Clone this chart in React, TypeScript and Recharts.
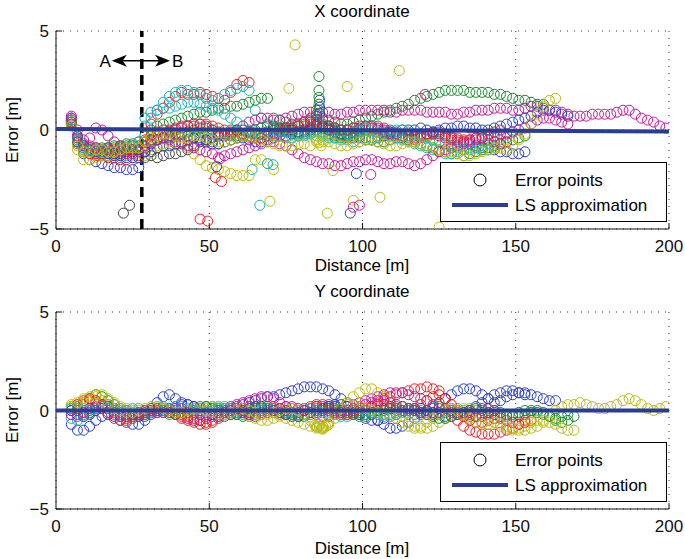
import { ScatterChart, Scatter, XAxis, YAxis, CartesianGrid, ReferenceLine } from 'recharts'

// ─── Colour tokens — MATLAB line cycle ────────────────────────────────────────

const BLUE    = '#2a3fc8'
const GREEN   = '#17882a'
const RED     = '#ea2020'
const CYAN    = '#14b2bc'
const MAGENTA = '#c21a98'
const YELLOW  = '#bcbc14'
const GRAY    = '#454545'
const LS_BLUE = '#2a3d94'
const INK     = '#111'
const FONT    = '"Liberation Sans", Arial, Helvetica, sans-serif'

// ─── Data ─────────────────────────────────────────────────────────────────────

const _ = null
type Val = number | null

// distance samples [m] shared by every trajectory
const DIST = [
  5, 7, 9, 11, 13, 15, 17, 19, 21, 23,
  25, 27, 29, 31, 33, 35, 37, 39, 41, 43,
  45, 47, 49, 51, 53, 55, 57, 59, 61, 63,
  65, 67, 69, 71, 73, 75, 77, 79, 81, 83,
  85, 87, 89, 91, 93, 95, 97, 99, 101, 103,
  105, 107, 109, 111, 113, 115, 117, 119, 121, 123,
  125, 127, 129, 131, 133, 135, 137, 139, 141, 143,
  145, 147, 149, 151, 153, 155, 157, 159, 161, 163,
  165, 167, 169, 171, 173, 175, 177, 179, 181, 183,
  185, 187, 189, 191, 193, 195, 197, 199,
]

const X_TICKS = [0, 50, 100, 150, 200]
const Y_TICKS = [-5, 0, 5]

// X coordinate error [m], one array per run
const TOP_B1: Val[] = [
  0.5, -0.6, -1.2, -1.5, -1.6, -1.7, -1.8, -1.9, -1.9, -2.0,
  -2.0, -1.9, -1.4, -1.1, -0.9, -0.8, -0.8, -0.7, -0.6, -0.5,
  -0.4, -0.4, -0.5, -0.6, -0.7, -0.6, -0.5, -0.4, -0.3, -0.3,
  -0.4, -0.4, -0.3, -0.2, -0.1, 0.0, 0.1, 0.2, 0.3, 0.4,
  0.7, 0.5, 0.2, 0.0, -0.2, -0.3, -0.4, -0.4, -0.5, -0.5,
  -0.4, -0.3, -0.2, -0.1, 0.0, 0.0, 0.0, 0.1, 0.0, -0.1,
  -0.2, -0.3, -0.4, -0.5, -0.6, -0.7, -0.8, -0.9, -1.0, -1.0,
  -1.1, -1.1, -1.2, -1.2, -1.1,
]
const TOP_G1: Val[] = [
  0.4, -0.4, -0.8, -0.9, -0.9, -1.0, -0.9, -0.8, -0.8, -0.7,
  -0.7, -0.6, -0.3, 0.0, 0.2, 0.3, 0.4, 0.5, 0.6, 0.7,
  0.8, 0.9, 0.9, 1.0, 1.1, 1.1, 1.2, 1.2, 1.3, 1.4,
  1.5, 1.6, 1.6, 0.6, 0.5, 0.4, 0.3, 0.3, 0.4, 0.5,
  0.8, 0.6, 0.5, 0.4, 0.3, 0.3, 0.4, 0.5, 0.6, 0.7,
  0.8, 0.9, 1.0, 1.1, 1.2, 1.3, 1.5, 1.6, 1.7, 1.8,
  1.9, 2.0, 2.0, 2.0, 2.0, 1.9, 1.9, 1.9, 1.9, 1.8,
  1.8, 1.7, 1.6, 1.5, 1.5, 1.4, 1.3, 1.3,
]
const TOP_R1: Val[] = [
  0.5, -0.5, -1.0, -1.2, -1.3, -1.3, -1.4, -1.4, -1.5, -1.5,
  -1.4, -1.3, -0.5, 0.3, 0.8, 1.1, 1.4, 1.7, 1.9, 1.8,
  1.8, 1.9, 1.8, 1.7, 1.6, 1.5, 1.9, 2.3, 2.5, 2.4,
  _, _, _, 0.1, 0.0, -0.1, 0.0, 0.2, 0.4, 0.6,
  0.5, 0.2, 0.0, -0.2, -0.3, -0.3, -0.2, -0.1, 0.0, 0.1,
  0.2, 0.1, 0.0, -0.2, -0.4, -0.5, -0.5, -0.4, -0.3, -0.2,
  -0.1, -0.2, -0.3, -0.4, -0.5, -0.5, -0.4, -0.3, -0.2, -0.1,
  0.0,
]
const TOP_C1: Val[] = [
  0.4, -0.6, -1.0, -1.1, -1.2, -1.2, -1.2, -1.2, -1.3, -1.3,
  -1.2, -1.0, 0.2, 0.6, 1.0, 1.4, 1.7, 1.9, 2.0, 2.0,
  1.9, 1.8, 1.6, 1.5, 1.6, 1.8, 2.0, 2.1, 2.2, 2.0,
  1.0, 0.6, 0.3, 0.1, 0.0, -0.1, -0.2, -0.3, -0.3, -0.2,
  -0.1, -0.2, -0.3, -0.4, -0.5, -0.5, -0.6, -0.6, -0.5, -0.4,
  -0.3, -0.2, -0.1, 0.0, 0.0, -0.1, -0.2, -0.3, -0.4, -0.5,
  -0.6, -0.7, -0.8, -0.9, -1.0, -1.0, -0.9, -0.8, -0.7, -0.6,
  -0.5, -0.4,
]
const TOP_M1: Val[] = [
  0.7, 0.0, -0.5, -0.4, 0.1, 0.0, -0.3, -0.6, -0.8, -0.9,
  -1.0, -1.0, -0.8, -0.5, -0.3, -0.2, -0.1, 0.0, 0.1, 0.2,
  0.3, 0.3, 0.2, 0.0, -0.2, -0.3, -0.2, 0.0, 0.2, 0.4,
  0.5, 0.6, 0.6, 0.5, 0.5, 0.6, 0.7, 0.8, 0.9, 0.9,
  1.0, 0.9, 0.9, 0.8, 0.8, 0.9, 0.9, 1.0, 1.0, 1.0,
  1.0, 1.0, 0.9, 0.9, 1.0, 1.0, 1.0, 1.0, 0.9, 0.9,
  0.9, 0.9, 0.8, 0.8, 0.9, 0.9, 1.0, 1.0, 1.0, 1.1,
  1.1, 1.1, 1.0, 1.0, 1.1, 1.2, 1.2, 1.1, 1.0, 1.0,
  0.9, 0.8, 0.7, 0.7, 0.7, 0.8, 0.8, 0.8, 0.8, 0.9,
  1.0, 1.0, 0.8, 0.6, 0.5, 0.4, 0.2, 0.1,
]
const TOP_Y1: Val[] = [
  0.3, -1.0, -1.5, -1.5, -1.4, -1.3, -1.3, -1.3, -1.2, -1.2,
  -1.3, -1.4, -1.3, -1.0, -0.8, -0.7, -0.6, -0.6, -0.7, -0.9,
  -1.2, -1.5, -1.8, -1.9, -2.0, -2.1, -2.2, -2.3, -2.3, -2.3,
  -1.5, -1.5, -1.7, -2.0,
]
const TOP_K1: Val[] = [
  0.3, -0.6, -0.9, -1.0, -1.0, -1.1, -1.1, -1.2, -1.2, -1.1,
  -1.1, -1.0, -1.1, -1.3, -1.4, -1.3, -1.2, -1.2, -1.1, -1.0,
  -0.8, -0.6, -0.5, -0.4, -0.3, -0.2, -0.1, 0.0, 0.0, -0.1,
  -0.2, -0.2, -0.1, 0.0, 0.1, 0.1, 0.0, -0.1, -0.1, 0.0,
  0.2, 0.1, 0.0, -0.1, -0.2, -0.2, -0.1, 0.0,
]
const TOP_B2: Val[] = [
  0.6, -0.3, -0.8, -1.0, -1.1, -1.1, -1.2, -1.3, -1.3, -1.4,
  -1.4, -1.4, -1.1, -0.7, -0.5, -0.4, -0.3, -0.2, -0.2, -0.3,
  -0.4, -0.5, -0.6, -0.7, -0.7, -0.6, -0.5, -0.4, -0.4, -0.5,
  -0.6, -0.6, -0.5, -0.4, -0.3, -0.3, -0.2, -0.1, 0.0, 0.1,
  0.3, 0.2, 0.1, 0.1, 0.0, 0.0, 0.1, 0.1, 0.2, 0.2,
  0.1, 0.0, -0.1, -0.2, -0.3, -0.3, -0.3, -0.2, -0.2, -0.1,
  0.0, 0.1, 0.1, 0.2, 0.2, 0.1, 0.1, 0.0, 0.0, 0.1,
  0.2, 0.3, 0.4, 0.5, 0.6, 0.7, 0.9, 1.0, 1.0, 0.9,
  0.8, 0.7,
]
const TOP_G2: Val[] = [
  0.5, -0.4, -0.9, -1.0, -1.0, -0.9, -0.9, -0.9, -0.9, -0.8,
  -0.8, -0.8, -0.6, -0.5, -0.5, -0.4, -0.4, -0.3, -0.2, -0.1,
  0.0, 0.1, 0.1, 0.0, -0.1, -0.2, -0.3, -0.3, -0.2, -0.1,
  0.0, 0.1, 0.2, 0.2, 0.1, 0.0, -0.1, -0.2, -0.2, -0.1,
  0.0, -0.1, -0.2, -0.3, -0.4, -0.4, -0.3, -0.3, -0.4, -0.5,
  -0.6, -0.6, -0.5, -0.4, -0.4, -0.5, -0.6, -0.7, -0.8, -0.9,
  -1.0, -1.1, -1.2, -1.2, -1.3, -1.2, -1.1, -1.0, -0.9, -0.8,
  -0.7, -0.6, -0.5, -0.4, -0.3,
]
const TOP_R2: Val[] = [
  0.4, -0.7, -1.1, -1.2, -1.2, -1.2, -1.1, -1.0, -1.0, -1.0,
  -1.0, -0.9, -0.6, -0.3, -0.1, 0.0, 0.0, 0.1, 0.2, 0.2,
  0.2, 0.3, 0.3, 0.2, 0.1, 0.0, 0.0, -0.1, -0.2, -0.3,
  -0.4, -0.4, -0.3, -0.2, -0.1, 0.0, 0.1, 0.2, 0.2, 0.3,
  0.4, 0.3, 0.2, 0.1, 0.0, 0.0, 0.1, 0.2, 0.2, 0.1,
  0.0, -0.1, -0.2, -0.3, -0.3, -0.4, -0.4, -0.3, -0.2, -0.2,
  -0.3, -0.4, -0.5, -0.6, -0.6, -0.5, -0.4, -0.4, -0.5, -0.6,
  -0.7, -0.6,
]
const TOP_C2: Val[] = [
  0.5, -0.5, -0.9, -1.0, -1.0, -1.1, -1.1, -1.1, -1.0, -0.9,
  -0.8, -0.6, 0.6, 0.9, 1.0, 1.1, 1.1, 1.2, 1.3, 1.4,
  1.4, 1.3, 1.2, 1.1, 1.0, 0.8, 0.6, 0.4, 0.2, 0.0,
  -0.1, -0.2, -0.2, -0.3, -0.3, -0.4, -0.4, -0.3, -0.2, -0.2,
  -0.3, -0.3, -0.4, -0.4, -0.3, -0.2, -0.1, 0.0, 0.1, 0.0,
  -0.1, -0.2, -0.3, -0.4, -0.5, -0.6, -0.7, -0.8, -0.9, -1.0,
  -1.1, -1.2, -1.2, -1.1, -1.0, -0.9, -0.9, -1.0, -1.0, -0.9,
]
const TOP_M2: Val[] = [
  0.6, -0.3, -0.7, -0.8, -0.9, -1.0, -1.0, -1.1, -1.1, -1.2,
  -1.2, -1.1, -0.8, -0.6, -0.5, -0.4, -0.5, -0.6, -0.7, -0.8,
  -0.9, -1.0, -1.1, -1.2, -1.4, -1.3, -1.2, -1.1, -1.0, -0.9,
  -0.8, -0.7, -0.6, -0.6, -0.7, -0.8, -1.0, -1.2, -1.4, -1.5,
  -1.6, -1.7, -1.7, -1.8, -1.8, -1.7, -1.6, -1.6, -1.5, -1.5,
  -1.6, -1.7, -1.7, -1.6, -1.6, -1.7, -1.8, -1.7, -1.5, -1.3,
  -1.1, -1.0, -0.9, -0.8, -0.7, -0.6, -0.5, -0.4, -0.3, -0.3,
  -0.2, -0.2, -0.1, 0.0, 0.1, 0.3, 0.5, 0.6, 0.6, 0.5,
  0.4, 0.3,
]
const TOP_Y2: Val[] = [
  0.2, -0.8, -1.1, -1.1, -1.0, -1.0, -1.1, -1.1, -1.0, -0.9,
  -0.9, -0.9, -0.6, -0.4, -0.3, -0.2, -0.2, -0.3, -0.4, -0.4,
  -0.3, -0.3, -0.4, -0.5, -0.6, -0.6, -0.5, -0.4, -0.3, -0.3,
  -0.4, -0.5, -0.6, -0.7, -0.8, -0.8, -0.8, -0.7, -0.7, -0.8,
  -0.6, -0.5, -0.6, -0.7, -0.8, -0.8, -0.7, -0.6, -0.5, -0.5,
  -0.6, -0.7, -0.8, -0.8, -0.7, -0.6, -0.6, -0.7, -0.8, -0.9,
  -1.0, -1.1, -1.1, -1.2, -1.3, -1.3, -1.2, -1.1, -1.0, -0.9,
  -0.9, -1.0, -0.8, -0.5, -0.2, 0.3, 0.8, 1.2, 1.5, 1.6,
]

// stray fixes [distance, error]
const TOP_OUT_K = [[22, -4.2], [24, -3.8]]
const TOP_OUT_R = [[47, -4.5], [49.5, -4.6], [52, -2.4], [54, -2.6]]
const TOP_OUT_C = [[66.5, -3.8], [64, -2.0], [69, -1.7], [70.8, -1.75]]
const TOP_OUT_B = [[96, -4.2], [98, -2.2], [52.4, -1.85], [86, 1.5], [86, 1.15], [86, 0.85]]
const TOP_OUT_M = [[97, -3.9], [99, -3.8], [102.7, -2.25], [120.4, 1.8], [53.5, -1.45]]
const TOP_OUT_G = [[85.8, 2.7], [85.8, 2.0], [85.8, 1.65], [85.8, 1.3], [85.8, 1.0]]
const TOP_OUT_Y = [
  [76, 2.1], [78, 4.3], [95, 2.2], [112, 3.0], [69.8, -3.6], [88.5, -4.2],
  [97, -3.55], [105.7, -3.4], [125, -4.9], [90.4, -2.05],
  [85, -0.5], [85.8, -0.65], [86.5, -0.8], [87.2, -0.6],
]

// Y coordinate error [m]
const BOT_B1: Val[] = [
  -0.7, -1.0, -1.0, -0.8, -0.5, -0.3, -0.2, -0.3, -0.5, -0.6,
  -0.7, -0.7, -0.5, -0.1, 0.4, 0.7, 0.8, 0.6, 0.4, 0.3,
  0.2, 0.1, 0.0, -0.1, -0.1, 0.0, 0.1, 0.2, 0.3, 0.4,
  0.5, 0.6, 0.7, 0.7, 0.8, 0.9, 1.0, 1.1, 1.2, 1.2,
  1.2, 1.1, 1.0, 0.8, 0.6, 0.4, 0.3, 0.2, 0.0, -0.2,
  -0.5, -0.7, -0.9, -0.9, -0.8, -0.6, -0.4, -0.2, 0.0, 0.2,
  0.4, 0.6, 0.8, 1.0, 1.1, 1.1, 1.0, 0.8, 0.6, 0.4,
  0.5, 0.7, 0.8, 0.9, 0.9, 0.8, 0.7, 0.6, 0.5, 0.5,
]
const BOT_G1: Val[] = [
  0.0, 0.1, 0.3, 0.6, 0.8, 0.7, 0.5, 0.3, 0.1, 0.0,
  -0.1, -0.2, -0.2, -0.1, 0.0, 0.1, 0.1, 0.0, -0.1, -0.1,
  0.0, 0.1, 0.2, 0.2, 0.1, 0.0, -0.1, -0.2, -0.3, -0.3,
  -0.2, -0.1, 0.0, 0.1, 0.1, 0.0, -0.1, -0.2, -0.2, -0.1,
  0.0, 0.1, 0.2, 0.2, 0.1, 0.0, -0.1, -0.2, -0.2, -0.1,
  0.0, 0.1, 0.1, 0.0, -0.1, -0.2, -0.2, -0.1, 0.0, 0.1,
  0.2, 0.1, 0.0, -0.1, -0.2, -0.3, -0.3, -0.2, -0.1, 0.0,
  -0.1, -0.2, -0.3, -0.3, -0.2, -0.1, 0.0, -0.1, -0.3, -0.5,
  -0.6, -0.5,
]
const BOT_R1: Val[] = [
  0.0, 0.2, 0.4, 0.5, 0.4, 0.1, -0.2, -0.4, -0.5, -0.5,
  -0.4, -0.3, -0.2, -0.1, 0.0, 0.0, -0.1, -0.2, -0.4, -0.5,
  -0.6, -0.7, -0.7, -0.6, -0.4, -0.2, -0.1, 0.0, 0.1, 0.2,
  0.2, 0.1, 0.0, -0.1, -0.2, -0.2, -0.1, 0.0, 0.1, 0.2,
  0.3, 0.2, 0.1, 0.0, -0.1, -0.2, -0.2, -0.1, 0.0, 0.2,
  0.4, 0.6, 0.7, 0.8, 0.9, 1.0, 1.1, 1.1, 1.2, 1.1,
  1.0, 0.6, 0.0, -0.5, -0.8, -1.0, -1.1, -1.2, -1.2, -1.2,
  -1.1, -1.0, -0.9, -0.7, -0.5, -0.5,
]
const BOT_C1: Val[] = [
  -0.4, -0.5, -0.3, 0.0, 0.2, 0.3, 0.2, 0.0, -0.1, -0.2,
  -0.2, -0.1, 0.0, 0.1, 0.2, 0.2, 0.1, 0.0, -0.1, -0.2,
  -0.2, -0.1, 0.0, 0.1, 0.2, 0.2, 0.1, 0.0, -0.1, -0.1,
  0.0, 0.1, 0.1, 0.0, -0.1, -0.2, -0.2, -0.1, 0.0, 0.1,
  0.1, 0.0, -0.1, -0.2, -0.3, -0.3, -0.2, -0.1, 0.0, 0.0,
  -0.1, -0.2, -0.2, -0.1, 0.0, 0.1, 0.1, 0.0, -0.1, -0.2,
  -0.2, -0.1, 0.0, 0.1, 0.0, -0.1,
]
const BOT_M1: Val[] = [
  0.1, 0.0, -0.1, 0.0, 0.2, 0.3, 0.3, 0.1, -0.1, -0.2,
  -0.2, -0.1, 0.0, 0.1, 0.1, 0.0, -0.1, -0.2, -0.3, -0.4,
  -0.5, -0.5, -0.4, -0.2, 0.0, 0.1, 0.2, 0.3, 0.4, 0.5,
  0.6, 0.7, 0.7, 0.6, 0.4, 0.2, 0.1, 0.0, 0.0, 0.1,
  0.2, 0.3, 0.3, 0.2, 0.1, 0.2, 0.3, 0.4, 0.5, 0.6,
  0.7, 0.8, 0.9, 0.9, 0.9, 0.8, 0.7, 0.6, 0.5, 0.3,
  0.1, 0.0, -0.1, -0.2, -0.2, -0.1, 0.0, 0.1, 0.1, 0.0,
]
const BOT_Y1: Val[] = [
  0.3, 0.3, 0.4, 0.6, 0.8, 0.8, 0.6, 0.4, 0.2, 0.1,
  0.0, -0.1, -0.1, 0.0, 0.1, 0.1, 0.0, -0.1, -0.2, -0.2,
  -0.1, 0.0, 0.1, 0.2, 0.2, 0.1, 0.0, -0.1, -0.2, -0.3,
  -0.4, -0.5, -0.5, -0.4, -0.3, -0.4, -0.5, -0.6, -0.7, -0.8,
  -0.9, -0.8, -0.7, -0.4, 0.0, 0.4, 0.7, 0.9, 1.1, 1.1,
  0.9, 0.7, 0.4, 0.1, -0.3, -0.6, -0.8, -0.9, -0.9, -0.8,
  -0.6, -0.4, -0.2, 0.0, 0.1, 0.1, 0.0, -0.2, -0.4, -0.6,
  -0.8, -0.9, -1.0, -1.0, -1.0, -0.9, -0.8, -0.6, -0.3, 0.0,
  0.2, 0.3, 0.3, 0.4, 0.3, 0.2, 0.1, 0.1, 0.2, 0.3,
  0.5, 0.6, 0.5, 0.3, 0.1, 0.0, 0.1, 0.2,
]
const BOT_B2: Val[] = [
  0.0, -0.2, -0.3, -0.2, 0.0, 0.2, 0.2, 0.1, 0.0, -0.1,
  -0.2, -0.3, -0.3, -0.2, -0.1, 0.0, 0.1, 0.2, 0.3, 0.3,
  0.2, 0.1, -0.1, -0.2, -0.3, -0.3, -0.2, -0.1, 0.0, 0.1,
  0.2, 0.2, 0.1, 0.0, -0.1, -0.2, -0.3, -0.3, -0.2, -0.1,
  0.0, 0.1, 0.2, 0.3, 0.3, 0.2, 0.0, -0.2, -0.4, -0.5,
  -0.5, -0.4, -0.3, -0.2, -0.1, 0.0, 0.1, 0.1, 0.0, -0.1,
  -0.2, -0.3, -0.3, -0.2, -0.1, 0.0, 0.2, 0.4, 0.6, 0.8,
  0.9, 1.0, 1.0, 0.9, 0.8,
]
const BOT_G2: Val[] = [
  0.2, 0.0, -0.2, -0.1, 0.1, 0.3, 0.2, 0.0, -0.2, -0.3,
  -0.3, -0.2, -0.1, 0.0, 0.0, -0.1, -0.2, -0.2, -0.1, 0.0,
  0.1, 0.2, 0.2, 0.1, 0.0, -0.1, -0.2, -0.2, -0.1, 0.0,
  0.1, 0.2, 0.2, 0.1, 0.0, -0.1, -0.2, -0.3, -0.3, -0.2,
  -0.1, 0.0, 0.1, 0.1, 0.0, -0.1, -0.2, -0.3, -0.3, -0.2,
  -0.1, 0.0, 0.1, 0.2, 0.2, 0.1, 0.0, -0.1, -0.2, -0.3,
  -0.4, -0.4, -0.3, -0.2, -0.1, 0.0, 0.1, 0.0, -0.1, -0.2,
  -0.3, -0.3, -0.2, -0.1, 0.0, 0.0, -0.1, -0.2, -0.3, -0.4,
  -0.3, -0.2, -0.3,
]
const BOT_R2: Val[] = [
  0.1, 0.3, 0.5, 0.6, 0.5, 0.3, 0.1, -0.1, -0.3, -0.4,
  -0.3, -0.2, -0.1, 0.0, 0.1, 0.1, 0.0, -0.1, -0.2, -0.3,
  -0.4, -0.5, -0.6, -0.5, -0.3, -0.1, 0.0, 0.1, 0.0, -0.1,
  -0.1, 0.0, 0.1, 0.2, 0.1, 0.0, -0.1, -0.1, 0.0, 0.1,
  0.2, 0.1, 0.0, -0.1, -0.2, -0.2, -0.1, 0.0, 0.1, 0.2,
  0.3, 0.3, 0.2, 0.1, 0.0, 0.0, 0.1, 0.3, 0.5, 0.7,
  0.8, 0.6, 0.3, 0.0, -0.3, -0.5, -0.6, -0.6, -0.5, -0.4,
  -0.4, -0.5, -0.6, -0.7, -0.6,
]
const BOT_C2: Val[] = [
  0.1, 0.2, 0.1, 0.0, 0.1, 0.2, 0.1, 0.0, -0.1, 0.0,
  0.1, 0.1, 0.0, -0.1, -0.1, 0.0, 0.1, 0.2, 0.2, 0.1,
  0.0, -0.1, -0.1, 0.0, 0.1, 0.1, 0.0, -0.1, -0.2, -0.2,
  -0.1, 0.0, 0.1, 0.1, 0.0, -0.1, -0.1, 0.0, 0.1, 0.1,
  0.0, -0.1, -0.2, -0.2, -0.1, 0.0, 0.1, 0.1, 0.0, -0.1,
  -0.2, -0.3, -0.3, -0.2, -0.1, 0.0,
]
const BOT_M2: Val[] = [
  -0.2, -0.3, -0.1, 0.1, 0.2, 0.1, -0.1, -0.2, -0.3, -0.3,
  -0.2, -0.1, 0.0, 0.0, -0.1, -0.1, 0.0, 0.1, 0.1, 0.0,
  -0.1, -0.2, -0.3, -0.3, -0.2, -0.1, 0.0, 0.0, -0.1, -0.2,
  -0.3, -0.2, -0.1, 0.0, 0.1, 0.2, 0.2, 0.1, 0.0, -0.1,
  -0.2, -0.3, -0.3, -0.2, -0.1, 0.0, 0.1, 0.2, 0.3, 0.4,
  0.5, 0.5, 0.4, 0.3, 0.2, 0.1, 0.0, -0.1, -0.2, -0.2,
  -0.1, 0.0, 0.1, 0.0, -0.1, -0.2, -0.3, -0.3, -0.2,
]
const BOT_Y2: Val[] = [
  0.2, 0.4, 0.6, 0.7, 0.7, 0.5, 0.3, 0.1, 0.0, -0.1,
  -0.1, 0.0, 0.1, 0.2, 0.2, 0.1, 0.0, -0.1, -0.1, 0.0,
  0.1, 0.1, 0.0, -0.1, -0.2, -0.2, -0.1, 0.0, 0.1, 0.0,
  -0.1, -0.2, -0.2, -0.1, 0.0, 0.1, 0.1, 0.0, -0.2, -0.5,
  -0.8, -0.9, -0.6, -0.2, 0.1, 0.3, 0.3, 0.2, 0.1, 0.0,
  -0.1, -0.2, -0.3, -0.4, -0.6, -0.8, -0.9, -0.8, -0.6, -0.4,
  -0.2, 0.0, 0.1, 0.0, -0.2, -0.4, -0.6, -0.7, -0.7, -0.6,
  -0.7, -0.8, -0.9, -0.9, -0.8, -0.6, -0.5, -0.5, -0.6, -0.7,
  -0.9, -1.0, -1.0,
]
const BOT_OUT_Y = [
  [84.5, -0.75], [85.2, -0.85], [85.9, -0.8], [86.6, -0.9], [87.3, -0.85],
  [88, -0.8], [88.7, -0.75], [86, -0.7], [87, -0.95],
]

// least-squares fit, end points [distance, error]
const TOP_LS = [[0, 0.05], [200, -0.07]]
const BOT_LS = [[0, 0.0], [200, 0.0]]

// ─── Helpers ──────────────────────────────────────────────────────────────────

type Pt = { x: number; y: number }

function onGrid(ys: Val[]): Pt[] {
  const out: Pt[] = []
  ys.forEach((y, i) => { if (y != null) out.push({ x: DIST[i], y }) })
  return out
}

function fromPairs(list: number[][]): Pt[] {
  return list.map(([x, y]) => ({ x, y }))
}

const ring = (color: string) => (p: any) =>
  p.cx == null ? <g /> : <circle cx={p.cx} cy={p.cy} r={5} fill="none" stroke={color} strokeWidth={1} />

const TOP_SERIES: [string, Pt[]][] = [
  [BLUE, onGrid(TOP_B1)], [GREEN, onGrid(TOP_G1)], [RED, onGrid(TOP_R1)],
  [CYAN, onGrid(TOP_C1)], [MAGENTA, onGrid(TOP_M1)], [YELLOW, onGrid(TOP_Y1)],
  [GRAY, onGrid(TOP_K1)], [BLUE, onGrid(TOP_B2)], [GREEN, onGrid(TOP_G2)],
  [RED, onGrid(TOP_R2)], [CYAN, onGrid(TOP_C2)], [MAGENTA, onGrid(TOP_M2)],
  [YELLOW, onGrid(TOP_Y2)],
  [GRAY, fromPairs(TOP_OUT_K)], [RED, fromPairs(TOP_OUT_R)], [CYAN, fromPairs(TOP_OUT_C)],
  [BLUE, fromPairs(TOP_OUT_B)], [MAGENTA, fromPairs(TOP_OUT_M)], [GREEN, fromPairs(TOP_OUT_G)],
  [YELLOW, fromPairs(TOP_OUT_Y)],
]

const BOT_SERIES: [string, Pt[]][] = [
  [BLUE, onGrid(BOT_B1)], [GREEN, onGrid(BOT_G1)], [RED, onGrid(BOT_R1)],
  [CYAN, onGrid(BOT_C1)], [MAGENTA, onGrid(BOT_M1)], [YELLOW, onGrid(BOT_Y1)],
  [BLUE, onGrid(BOT_B2)], [GREEN, onGrid(BOT_G2)], [RED, onGrid(BOT_R2)],
  [CYAN, onGrid(BOT_C2)], [MAGENTA, onGrid(BOT_M2)], [YELLOW, onGrid(BOT_Y2)],
  [YELLOW, fromPairs(BOT_OUT_Y)],
]

const tickStyle = { fontSize: 17, fill: INK, fontFamily: FONT }
const minus = (v: number) => String(v).replace('-', '\u2212')

// double-headed annotation arrow with its A / B labels
function ArrowAB(p: any) {
  const { x1, y1, x2, y2 } = p
  const len = 15, half = 6, notch = 4
  return (
    <g>
      <line x1={x1 + len - notch} y1={y1} x2={x2 - len + notch} y2={y2} stroke="#000" strokeWidth={1.5} />
      <polygon points={`${x1},${y1} ${x1 + len},${y1 - half} ${x1 + len - notch},${y1} ${x1 + len},${y1 + half}`} fill="#000" />
      <polygon points={`${x2},${y2} ${x2 - len},${y2 - half} ${x2 - len + notch},${y2} ${x2 - len},${y2 + half}`} fill="#000" />
      <text x={x1 - 1} y={y1 + 6} textAnchor="end" fontSize={17} fontFamily={FONT} fill="#000">A</text>
      <text x={x2 + 2} y={y2 + 6} textAnchor="start" fontSize={17} fontFamily={FONT} fill="#000">B</text>
    </g>
  )
}

// ─── One subplot ──────────────────────────────────────────────────────────────

function Panel({ top, marginTop, series, ls, children }: {
  top: number; marginTop: number; series: [string, Pt[]][]; ls: number[][]; children?: any
}) {
  return (
    <div style={{ position: 'absolute', left: 0, top, width: 685, height: 260 }}>
      <ScatterChart width={685} height={260} margin={{ top: marginTop, right: 16, bottom: 1, left: 16 }}>
        <CartesianGrid stroke="#333" strokeDasharray="1 6" strokeWidth={1} />
        <XAxis
          type="number" dataKey="x" domain={[0, 200]} ticks={X_TICKS}
          height={30} tickSize={0} tickMargin={11} tick={tickStyle}
          axisLine={{ stroke: INK, strokeWidth: 1 }} tickLine={false} allowDataOverflow
        />
        <YAxis
          type="number" dataKey="y" domain={[-5, 5]} ticks={Y_TICKS}
          width={40} tickSize={0} tickMargin={7} tick={tickStyle} tickFormatter={minus}
          axisLine={{ stroke: INK, strokeWidth: 1 }} tickLine={false} allowDataOverflow
        />
        {X_TICKS.slice(1).map(t => (
          <ReferenceLine key={'xt' + t} segment={[{ x: t, y: -5 }, { x: t, y: -4.7 }]} stroke={INK} strokeWidth={1} />
        ))}
        {Y_TICKS.map(t => (
          <ReferenceLine key={'yt' + t} segment={[{ x: 0, y: t }, { x: 2, y: t }]} stroke={INK} strokeWidth={1} />
        ))}
        {series.map(([color, pts], i) => (
          <Scatter key={i} data={pts} shape={ring(color)} isAnimationActive={false} />
        ))}
        <Scatter
          data={fromPairs(ls)} shape={() => <g />}
          line={{ stroke: LS_BLUE, strokeWidth: 4 }} isAnimationActive={false}
        />
        {children}
      </ScatterChart>
    </div>
  )
}

// ─── Legend box ───────────────────────────────────────────────────────────────

function LegendBox({ y }: { y: number }) {
  return (
    <g>
      <rect x={440.5} y={y + 0.5} width={226} height={59} fill="#fff" stroke="#000" strokeWidth={1} />
      <circle cx={480} cy={y + 18} r={6} fill="none" stroke="#000" strokeWidth={1} />
      <text x={515} y={y + 24} fontSize={17} fontFamily={FONT} fill="#000">Error points</text>
      <line x1={452} y1={y + 43} x2={508} y2={y + 43} stroke={LS_BLUE} strokeWidth={4} />
      <text x={515} y={y + 49} fontSize={17} fontFamily={FONT} fill="#000">LS approximation</text>
    </g>
  )
}

// ─── Main export ──────────────────────────────────────────────────────────────

export default function App() {
  const label = { fontSize: 17, fontFamily: FONT, fill: '#000' }
  return (
    <div style={{ position: 'absolute', left: 0, top: 0, width: 685, height: 559, background: '#fff', overflow: 'hidden' }}>
      <Panel top={0} marginTop={31} series={TOP_SERIES} ls={TOP_LS}>
        <ReferenceLine x={28} stroke="#000" strokeWidth={3.5} strokeDasharray="10 6" />
        <ReferenceLine segment={[{ x: 18.2, y: 3.5 }, { x: 37.2, y: 3.5 }]} shape={ArrowAB} />
      </Panel>
      <Panel top={280} marginTop={32} series={BOT_SERIES} ls={BOT_LS} />
      <svg width={685} height={559} style={{ position: 'absolute', left: 0, top: 0, pointerEvents: 'none' }}>
        <text x={362} y={17} textAnchor="middle" {...label}>X coordinate</text>
        <text x={362} y={271} textAnchor="middle" {...label}>Distance [m]</text>
        <text x={362} y={297} textAnchor="middle" {...label}>Y coordinate</text>
        <text x={362} y={554} textAnchor="middle" {...label}>Distance [m]</text>
        <text transform="translate(18,130) rotate(-90)" textAnchor="middle" {...label}>Error [m]</text>
        <text transform="translate(18,410) rotate(-90)" textAnchor="middle" {...label}>Error [m]</text>
        <LegendBox y={162} />
        <LegendBox y={442} />
      </svg>
    </div>
  )
}
